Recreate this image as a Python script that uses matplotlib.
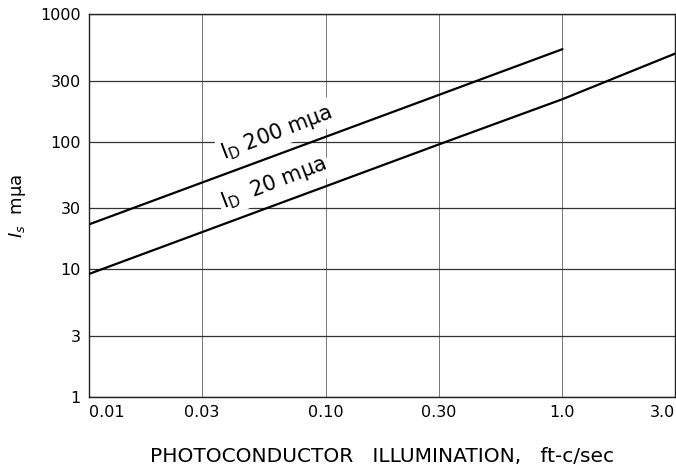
import numpy as np
import matplotlib
matplotlib.use('Agg')
import matplotlib.pyplot as plt

# illumination (ft-c/sec) vs signal current (m-micro-amps)
x_200 = [0.01, 1.0]
y_200 = [22.5, 530]
x_20 = [0.01, 0.3, 1.0, 3.0]
y_20 = [9.2, 95, 215, 490]

xticks = [0.01, 0.03, 0.10, 0.30, 1.0, 3.0]
xtick_labels = ['0.01', '0.03', '0.10', '0.30', '1.0', '3.0']
yticks = [1, 3, 10, 30, 100, 300, 1000]
ytick_labels = ['1', '3', '10', '30', '100', '300', '1000']

fig = plt.figure(figsize=(6.76, 4.68), dpi=100)
ax = fig.add_axes([0.1317, 0.1517, 0.867, 0.8183])

ax.plot(x_200, y_200, color='black', lw=1.6, zorder=4)
ax.plot(x_20, y_20, color='black', lw=1.6, zorder=4)

ax.set_xscale('log')
ax.set_yscale('log')
ax.set_xlim(0.01, 3.0)
ax.set_ylim(1, 1000)
ax.set_xticks(xticks)
ax.set_xticklabels(xtick_labels)
ax.set_yticks(yticks)
ax.set_yticklabels(ytick_labels)
ax.minorticks_off()
ax.tick_params(length=0, labelsize=11.5, pad=6)
labs = ax.get_xticklabels()
labs[0].set_horizontalalignment('left')
labs[-1].set_horizontalalignment('right')

ax.grid(True, axis='y', color='#333333', lw=0.9)
ax.grid(True, axis='x', color='#777777', lw=0.7)
for s in ax.spines.values():
    s.set_linewidth(1.0)
    s.set_color('#222222')

box = dict(fc='white', ec='none', pad=2)
ax.text(0.038, 66, r'$\mathregular{I_D}$ 200 m$\mathregular{\mu}$a', rotation=21,
        fontsize=15, ha='left', va='bottom', rotation_mode='anchor', bbox=box, zorder=3)
ax.text(0.038, 27, r'$\mathregular{I_D}$  20 m$\mathregular{\mu}$a', rotation=21,
        fontsize=15, ha='left', va='bottom', rotation_mode='anchor', bbox=box, zorder=3)

ax.set_ylabel(r'$I_s$  m$\mathregular{\mu}$a', fontsize=13, labelpad=9)
ax.set_xlabel('PHOTOCONDUCTOR   ILLUMINATION,   ft-c/sec', fontsize=14.5, labelpad=19)

fig.savefig('out.png', dpi=100)
